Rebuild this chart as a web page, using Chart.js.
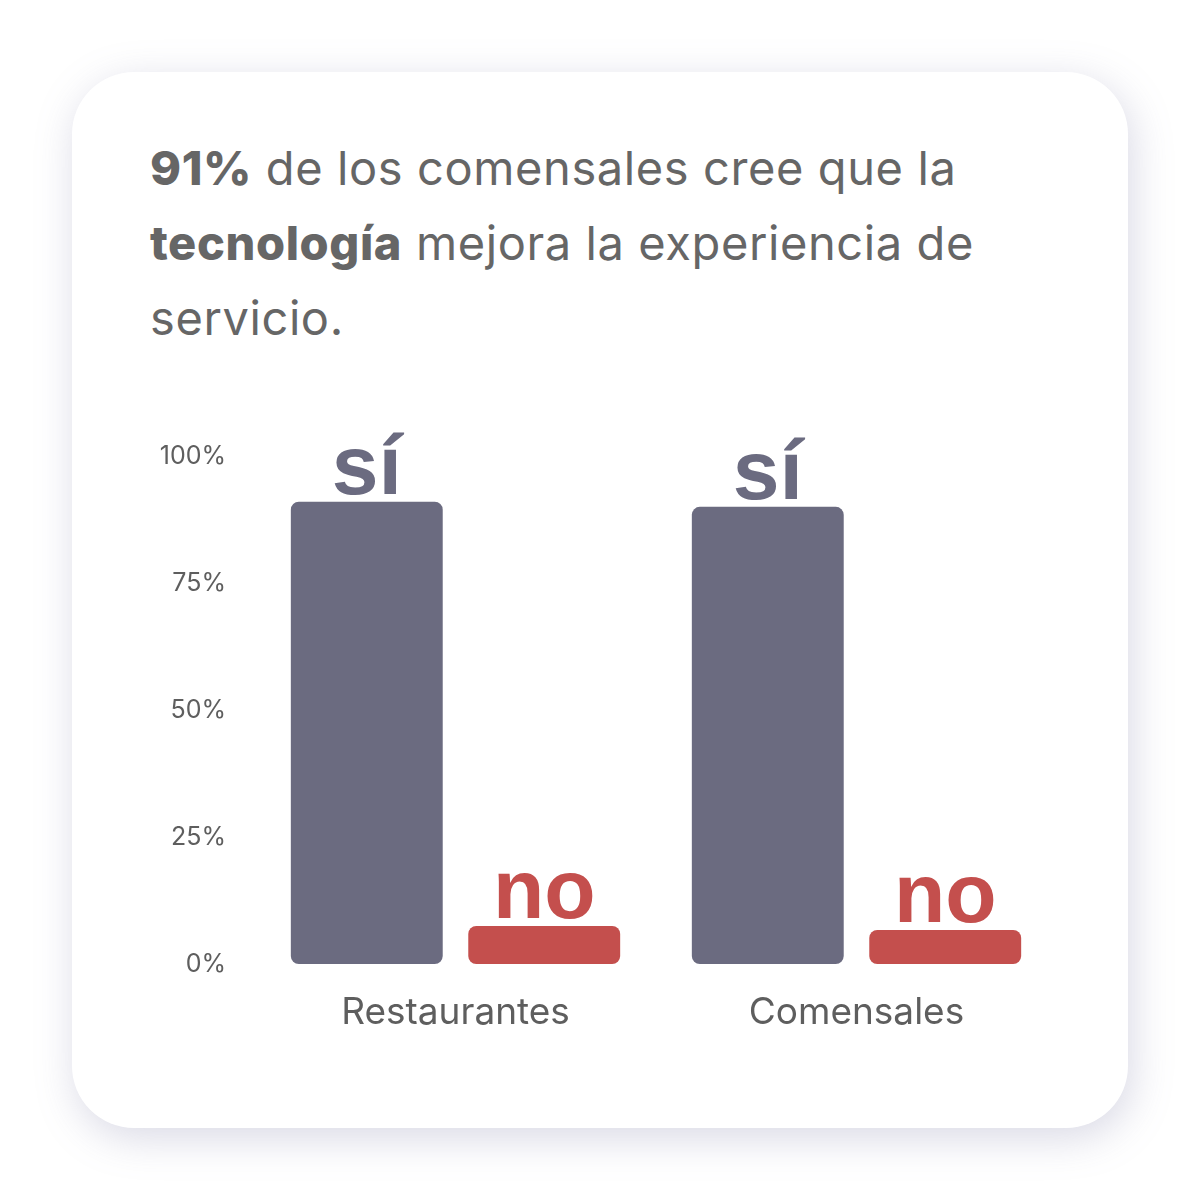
<!DOCTYPE html>
<html>
<head>
<meta charset="utf-8">
<script src="https://cdn.jsdelivr.net/npm/chart.js@4"></script>
<style>
  html, body { margin: 0; padding: 0; background: #ffffff; }
  body { width: 1200px; height: 1200px; position: relative; overflow: hidden; }
  .card {
    position: absolute; left: 72px; top: 72px; width: 1056px; height: 1056px;
    background: #ffffff; border-radius: 62px;
    box-shadow: 4px 10px 40px rgba(120, 120, 160, 0.28);
  }
  .title {
    position: absolute; left: 150px; top: 130px;
    font-family: "Inter", sans-serif; font-size: 47px; line-height: 75px;
    color: #666666; letter-spacing: 0.6px;
  }
  .title b { font-weight: 800; }
  #chart { position: absolute; left: 140px; top: 381px; }
</style>
</head>
<body>
<div class="card"></div>
<div class="title"><b>91%</b> de los comensales cree que la<br><b>tecnología</b> mejora la experiencia de<br>servicio.</div>
<canvas id="chart" width="940" height="680"></canvas>
<script>
// datos
var categorias = ['Restaurantes', 'Comensales'];
var valoresSi = [91, 90];
var valoresNo = [7.5, 6.7];
var etiquetas = ['sí', 'no'];
var ticksY = [0, 25, 50, 75, 100];

var colorSi = '#6b6b80';
var colorNo = '#c44f4d';

// texto encima de cada barra
var etiquetasBarras = {
    id: 'etiquetasBarras',
    afterDatasetsDraw: function(chart) {
        var ctx = chart.ctx;
        ctx.save();
        ctx.font = 'bold 84px "Liberation Sans", Arial, sans-serif';
        ctx.textAlign = 'center';
        ctx.textBaseline = 'alphabetic';
        chart.data.datasets.forEach(function(ds, i) {
            var meta = chart.getDatasetMeta(i);
            ctx.fillStyle = ds.backgroundColor;
            meta.data.forEach(function(bar) {
                ctx.fillText(etiquetas[i], bar.x, bar.y - 8);
            });
        });
        ctx.restore();
    }
};

new Chart(document.getElementById('chart'), {
    type: 'bar',
    data: {
        labels: categorias,
        datasets: [
            { label: etiquetas[0], data: valoresSi, backgroundColor: colorSi },
            { label: etiquetas[1], data: valoresNo, backgroundColor: colorNo }
        ]
    },
    options: {
        responsive: false,
        animation: false,
        barPercentage: 0.856,
        categoryPercentage: 0.885,
        elements: { bar: { borderRadius: 8, borderSkipped: false } },
        layout: { padding: { top: 75, right: 23, bottom: 0, left: 0 } },
        plugins: { legend: { display: false }, tooltip: { enabled: false } },
        scales: {
            x: {
                grid: { display: false, drawTicks: false },
                border: { display: false },
                ticks: {
                    color: '#5e5e5e',
                    padding: 27,
                    font: { family: 'Inter', size: 37 }
                },
                afterFit: function(scale) { scale.height = 97; }
            },
            y: {
                min: 0,
                max: 100,
                grid: { display: false, drawTicks: false },
                border: { display: false },
                afterBuildTicks: function(scale) {
                    scale.ticks = ticksY.map(function(v) { return { value: v }; });
                },
                ticks: {
                    color: '#5e5e5e',
                    padding: 29,
                    font: { family: 'Inter', size: 25 },
                    callback: function(v) { return v + '%'; }
                },
                afterFit: function(scale) { scale.width = 115; }
            }
        }
    },
    plugins: [etiquetasBarras]
});
</script>
</body>
</html>
